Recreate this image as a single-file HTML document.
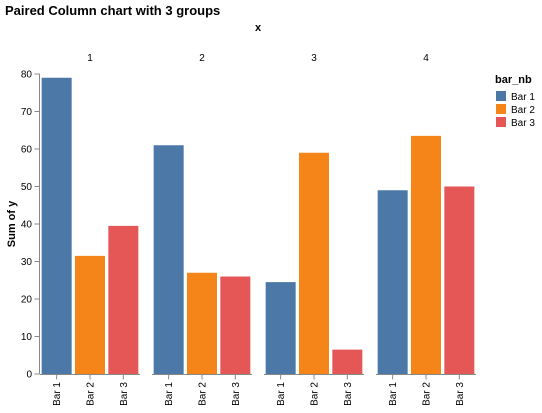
<!DOCTYPE html>
<html><head><meta charset="utf-8"><style>
body{margin:0;background:#fff;}
svg{display:block;font-family:"Liberation Sans",sans-serif;}
</style></head><body>
<svg id="chart" width="542" height="413">
<text x="5" y="15" font-size="13" font-weight="bold" fill="#000">Paired Column chart with 3 groups</text>
<text x="258" y="31" font-size="11" font-weight="bold" text-anchor="middle">x</text>
<g id="plot"></g>
<text transform="translate(15,224) rotate(-90)" font-size="11" font-weight="bold" text-anchor="middle">Sum of y</text>
<g>
<text x="495" y="83" font-size="11" font-weight="bold">bar_nb</text>
</g>
</svg>
<script>
const groups = ["1","2","3","4"];
const barNames = ["Bar 1","Bar 2","Bar 3"];
const bar1 = [79, 61, 24.5, 49];
const bar2 = [31.5, 27, 59, 63.5];
const bar3 = [39.5, 26, 6.5, 50];
const yTicks = [0,10,20,30,40,50,60,70,80];
const colors = ["#4c78a8","#f58518","#e45756"];
const series=[bar1,bar2,bar3];
const NS="http://www.w3.org/2000/svg";
const plot=document.getElementById('plot');
const svg=document.getElementById('chart');
const y0=374, yTop=74, yMax=80;
const y=v=>y0-(v/yMax)*(y0-yTop);
const facetX=i=>40+i*112, facetW=100;
function mk(tag,attrs,parent){const e=document.createElementNS(NS,tag);for(const k in attrs)e.setAttribute(k,attrs[k]);(parent||plot).appendChild(e);return e;}
// y axis
const ax=mk('line',{x1:39.5,x2:39.5,y1:yTop,y2:y0,stroke:'#888'});


yTicks.forEach(t=>{
  const tk=mk('line',{x1:34.5,x2:39.5,y1:y(t),y2:y(t),stroke:'#888'});
  
  
  const tl=mk('text',{x:32,y:y(t)+3.5,'font-size':10,'text-anchor':'end'});
  tl.textContent=t;
  
  
});
const step=facetW/3, bw=step*0.9;
groups.forEach((g,gi)=>{
  const fx=facetX(gi);
  const ft=mk('text',{x:fx+facetW/2,y:61,'font-size':10,'text-anchor':'middle'});
  ft.textContent=g;
  
  
  const xl=mk('line',{x1:fx,x2:fx+facetW,y1:y0+0.5,y2:y0+0.5,stroke:'#888'});
  
  
  series.forEach((s,si)=>{
    const bx=fx+si*step+step*0.05;
    const r=mk('rect',{x:bx,y:y(s[gi]),width:bw,height:y0-y(s[gi]),fill:colors[si]});
    
    
    const cx=fx+si*step+step/2;
    const tk=mk('line',{x1:cx,x2:cx,y1:y0+0.5,y2:y0+5.5,stroke:'#888'});
    
    
    const tl=mk('text',{transform:`translate(${cx+3.5},${y0+8}) rotate(-90)`,'font-size':10,'text-anchor':'end'});
    tl.textContent=barNames[si];
    
    
  });
});
barNames.forEach((n,i)=>{
  const r=mk('rect',{x:496,y:91+i*13,width:10,height:10,fill:colors[i]},svg);
  
  
  const t=mk('text',{x:511,y:100+i*13,'font-size':10},svg);
  t.textContent=n;
  
  
});
</script>
</body></html>
